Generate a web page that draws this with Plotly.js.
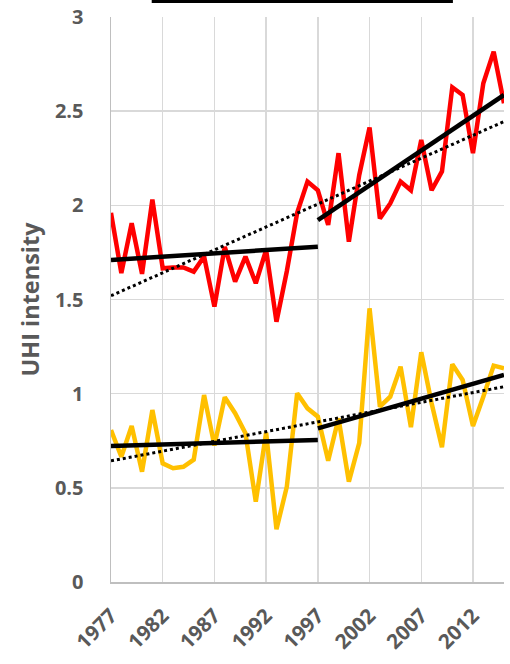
<!DOCTYPE html>
<html>
<head>
<meta charset="utf-8">
<script src="https://cdn.plot.ly/plotly-3.0.1.min.js"></script>
<style>html,body{margin:0;padding:0;background:#fff;}#chart{width:510px;height:664px;}</style>
</head>
<body>
<div id="chart"></div>
<script>
var years = [1977,1978,1979,1980,1981,1982,1983,1984,1985,1986,1987,1988,1989,1990,1991,1992,1993,1994,1995,1996,1997,1998,1999,2000,2001,2002,2003,2004,2005,2006,2007,2008,2009,2010,2011,2012,2013,2014,2015];
var redSeries = [1.96,1.64,1.905,1.636,2.03,1.666,1.67,1.67,1.648,1.728,1.462,1.78,1.595,1.728,1.586,1.763,1.382,1.65,1.96,2.126,2.08,1.896,2.277,1.807,2.16,2.413,1.93,2.01,2.126,2.08,2.347,2.08,2.18,2.627,2.586,2.277,2.648,2.816,2.542];
var yellowSeries = [0.807,0.665,0.828,0.586,0.913,0.63,0.604,0.612,0.65,0.993,0.724,0.981,0.896,0.79,0.427,0.793,0.28,0.506,1.002,0.922,0.878,0.644,0.869,0.533,0.737,1.453,0.931,0.984,1.143,0.822,1.22,0.949,0.715,1.156,1.073,0.828,0.984,1.149,1.135];

// trend line end points
var trendEarlyYears = [1977, 1997];
var trendLateYears = [1997, 2015];
var trendAllYears = [1977, 2015];
var redTrendEarly = [1.71, 1.78];
var redTrendLate = [1.922, 2.586];
var redTrendAll = [1.52, 2.445];
var yellowTrendEarly = [0.722, 0.754];
var yellowTrendLate = [0.816, 1.099];
var yellowTrendAll = [0.643, 1.037];

var yTicks = [0, 0.5, 1, 1.5, 2, 2.5, 3];
var yTickText = ['0', '0.5', '1', '1.5', '2', '2.5', '3'];
var xTicks = [1977, 1982, 1987, 1992, 1997, 2002, 2007, 2012];

var RED = '#FF0000', YEL = '#FFC000';
function solid(x, y) {
  return {x: x, y: y, type: 'scatter', mode: 'lines', line: {color: '#000', width: 4.5}, hoverinfo: 'skip', showlegend: false};
}
function dotted(x, y) {
  return {x: x, y: y, type: 'scatter', mode: 'lines', line: {color: '#000', width: 3, dash: 'dot'}, hoverinfo: 'skip', showlegend: false};
}
var data = [
  {x: years, y: yellowSeries, type: 'scatter', mode: 'lines', line: {color: YEL, width: 4.5}, showlegend: false},
  {x: years, y: redSeries, type: 'scatter', mode: 'lines', line: {color: RED, width: 4.5}, showlegend: false},
  dotted(trendAllYears, redTrendAll),
  dotted(trendAllYears, yellowTrendAll),
  solid(trendEarlyYears, redTrendEarly),
  solid(trendLateYears, redTrendLate),
  solid(trendEarlyYears, yellowTrendEarly),
  solid(trendLateYears, yellowTrendLate)
];

var FAM = '"Open Sans", "Noto Sans", sans-serif';
var layout = {
  width: 510, height: 664,
  margin: {l: 111, r: 6, t: 17, b: 82},
  paper_bgcolor: '#fff', plot_bgcolor: '#fff',
  showlegend: false,
  xaxis: {
    range: [1977, 2015],
    tickvals: xTicks, ticktext: xTicks.map(String),
    tickangle: -45,
    tickfont: {family: FAM, color: '#595959', size: 20.5, weight: 700},
    showgrid: true, gridcolor: '#d9d9d9', gridwidth: 1.5,
    showline: true, linecolor: '#bfbfbf', linewidth: 1.5,
    zeroline: false, ticks: '', ticklabelstandoff: 12,
    fixedrange: true
  },
  yaxis: {
    range: [0, 3],
    tickvals: yTicks, ticktext: yTickText,
    tickfont: {family: FAM, color: '#595959', size: 20, weight: 700},
    showgrid: true, gridcolor: '#d9d9d9', gridwidth: 1.5,
    showline: true, linecolor: '#bfbfbf', linewidth: 1.5,
    zeroline: false, ticks: '', ticklabelstandoff: 22,
    title: {text: 'UHI intensity', font: {family: FAM, color: '#595959', size: 23.5, weight: 700}, standoff: 8},
    automargin: false,
    fixedrange: true
  },
  shapes: [
    {type: 'rect', xref: 'paper', yref: 'paper', x0: 0.1036, x1: 0.870, y0: 1.0248, y1: 1.08,
     fillcolor: '#000', line: {width: 0}, layer: 'above'}
  ]
};
Plotly.newPlot('chart', data, layout, {displayModeBar: false, staticPlot: true});
</script>
</body>
</html>
